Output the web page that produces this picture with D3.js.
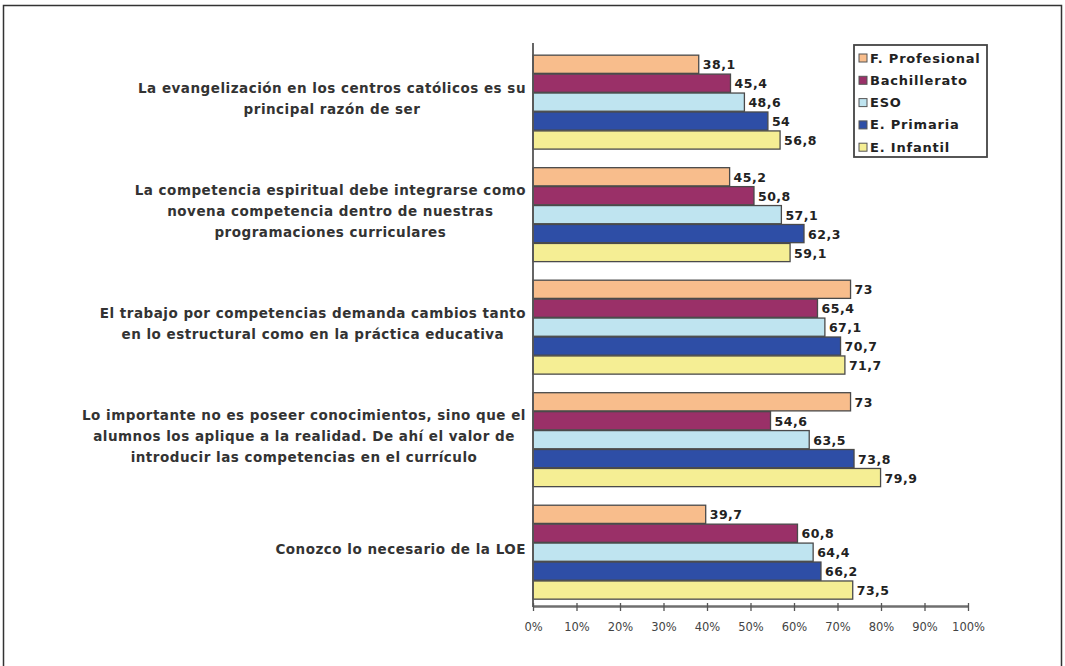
<!DOCTYPE html>
<html>
<head>
<meta charset="utf-8">
<script src="https://cdn.jsdelivr.net/npm/d3@7"></script>
<style>
  html, body { margin: 0; padding: 0; background: #fff; }
  svg { display: block; }
</style>
</head>
<body>
<svg id="chart" width="1065" height="666"></svg>
<script>
const categories = [
  ["La evangelización en los centros católicos es su", "principal razón de ser"],
  ["La competencia espiritual debe integrarse como", "novena competencia dentro de nuestras", "programaciones curriculares"],
  ["El trabajo por competencias demanda cambios tanto", "en lo estructural como en la práctica educativa"],
  ["Lo importante no es poseer conocimientos, sino que el", "alumnos los aplique a la realidad. De ahí el valor de", "introducir las competencias en el currículo"],
  ["Conozco lo necesario de la LOE"]
];
const seriesNames = ["F. Profesional", "Bachillerato", "ESO", "E. Primaria", "E. Infantil"];
const fProfesional = [38.1, 45.2, 73, 73, 39.7];
const bachillerato = [45.4, 50.8, 65.4, 54.6, 60.8];
const eso = [48.6, 57.1, 67.1, 63.5, 64.4];
const ePrimaria = [54, 62.3, 70.7, 73.8, 66.2];
const eInfantil = [56.8, 59.1, 71.7, 79.9, 73.5];
const seriesValues = [fProfesional, bachillerato, eso, ePrimaria, eInfantil];
const tickValues = [0, 10, 20, 30, 40, 50, 60, 70, 80, 90, 100];
const colors = ["#F8BD8C", "#9A3068", "#BFE4F0", "#2E4EA6", "#F5EE94"];

const svg = d3.select("#chart");
const FONT = "'DejaVu Sans', Verdana, sans-serif";

// outer frame (top, left, right)
svg.append("path")
  .attr("d", "M3.5,666 L3.5,5.5 L1061.5,5.5 L1061.5,666")
  .attr("fill", "none").attr("stroke", "#333").attr("stroke-width", 1.5);

const x = d3.scaleLinear().domain([0, 100]).range([533, 968]);
const y = d3.scaleBand().domain(d3.range(categories.length))
  .range([44, 606]).paddingInner(0.165).paddingOuter(0.08).align(0.62);
const ys = d3.scaleBand().domain(d3.range(seriesNames.length))
  .range([0, y.bandwidth()]).paddingInner(0.04);

// bars
const groups = svg.append("g").selectAll("g").data(categories).join("g")
  .attr("transform", (d, i) => `translate(0,${y(i)})`);

groups.each(function(cat, ci) {
  const g = d3.select(this);
  seriesValues.forEach((vals, si) => {
    const v = vals[ci];
    g.append("rect")
      .attr("x", x(0))
      .attr("y", ys(si))
      .attr("width", x(v) - x(0))
      .attr("height", ys.bandwidth())
      .attr("fill", colors[si])
      .attr("stroke", "#4a4a4a").attr("stroke-width", 1.3);
  });
  seriesValues.forEach((vals, si) => {
    const v = vals[ci];
    g.append("text")
      .attr("x", x(v) + 4)
      .attr("y", ys(si) + ys.bandwidth() / 2 + 1.5)
      .attr("dominant-baseline", "middle")
      .attr("font-family", FONT).attr("font-weight", "bold")
      .attr("font-size", 12.5).attr("letter-spacing", 0.5).attr("fill", "#222")
      .text(String(v).replace(".", ","));
  });
});

// axis
const axis = d3.axisBottom(x).tickValues(tickValues).tickSize(0).tickFormat(d => d + "%");
const ax = svg.append("g").attr("transform", "translate(0,606)").call(axis);
ax.select(".domain").attr("stroke", "#6f6f6f").attr("stroke-width", 2.5);
ax.selectAll(".tick line").remove();
ax.selectAll(".tick").append("line")
  .attr("y1", -3).attr("y2", 5).attr("stroke", "#555").attr("stroke-width", 1.3);
ax.selectAll(".tick text")
  .attr("y", 17).attr("font-family", FONT).attr("font-size", 11.5).attr("fill", "#444");

// vertical axis line
svg.append("line").attr("x1", x(0)).attr("x2", x(0)).attr("y1", 43).attr("y2", 607)
  .attr("stroke", "#555").attr("stroke-width", 1.8);

// category labels
const labelRight = 526;
categories.forEach((lines, ci) => {
  const g = svg.append("g");
  const lh = 20.8;
  const cy = y(ci) + y.bandwidth() / 2 - 2.5;
  const texts = lines.map((ln, li) => g.append("text")
    .attr("y", cy + (li - (lines.length - 1) / 2) * lh)
    .attr("dominant-baseline", "middle")
    .attr("text-anchor", "middle")
    .attr("font-family", FONT).attr("font-weight", "bold")
    .attr("font-size", 13.5).attr("letter-spacing", 0.5).attr("fill", "#333")
    .text(ln));
  const maxW = d3.max(texts, t => t.node().getComputedTextLength());
  texts.forEach(t => t.attr("x", labelRight - maxW / 2));
});

// legend
const lg = svg.append("g");
lg.append("rect").attr("x", 854).attr("y", 45).attr("width", 133).attr("height", 112)
  .attr("fill", "#fff").attr("stroke", "#444").attr("stroke-width", 1.8);
seriesNames.forEach((name, i) => {
  const cy = 58 + i * 22.3;
  lg.append("rect").attr("x", 859).attr("y", cy - 4).attr("width", 8).attr("height", 8)
    .attr("fill", colors[i]).attr("stroke", "#555").attr("stroke-width", 1);
  lg.append("text").attr("x", 870).attr("y", cy + 1)
    .attr("dominant-baseline", "middle")
    .attr("font-family", FONT).attr("font-weight", "bold")
    .attr("font-size", 13).attr("letter-spacing", 0.8).attr("fill", "#222").text(name);
});
</script>
</body>
</html>
